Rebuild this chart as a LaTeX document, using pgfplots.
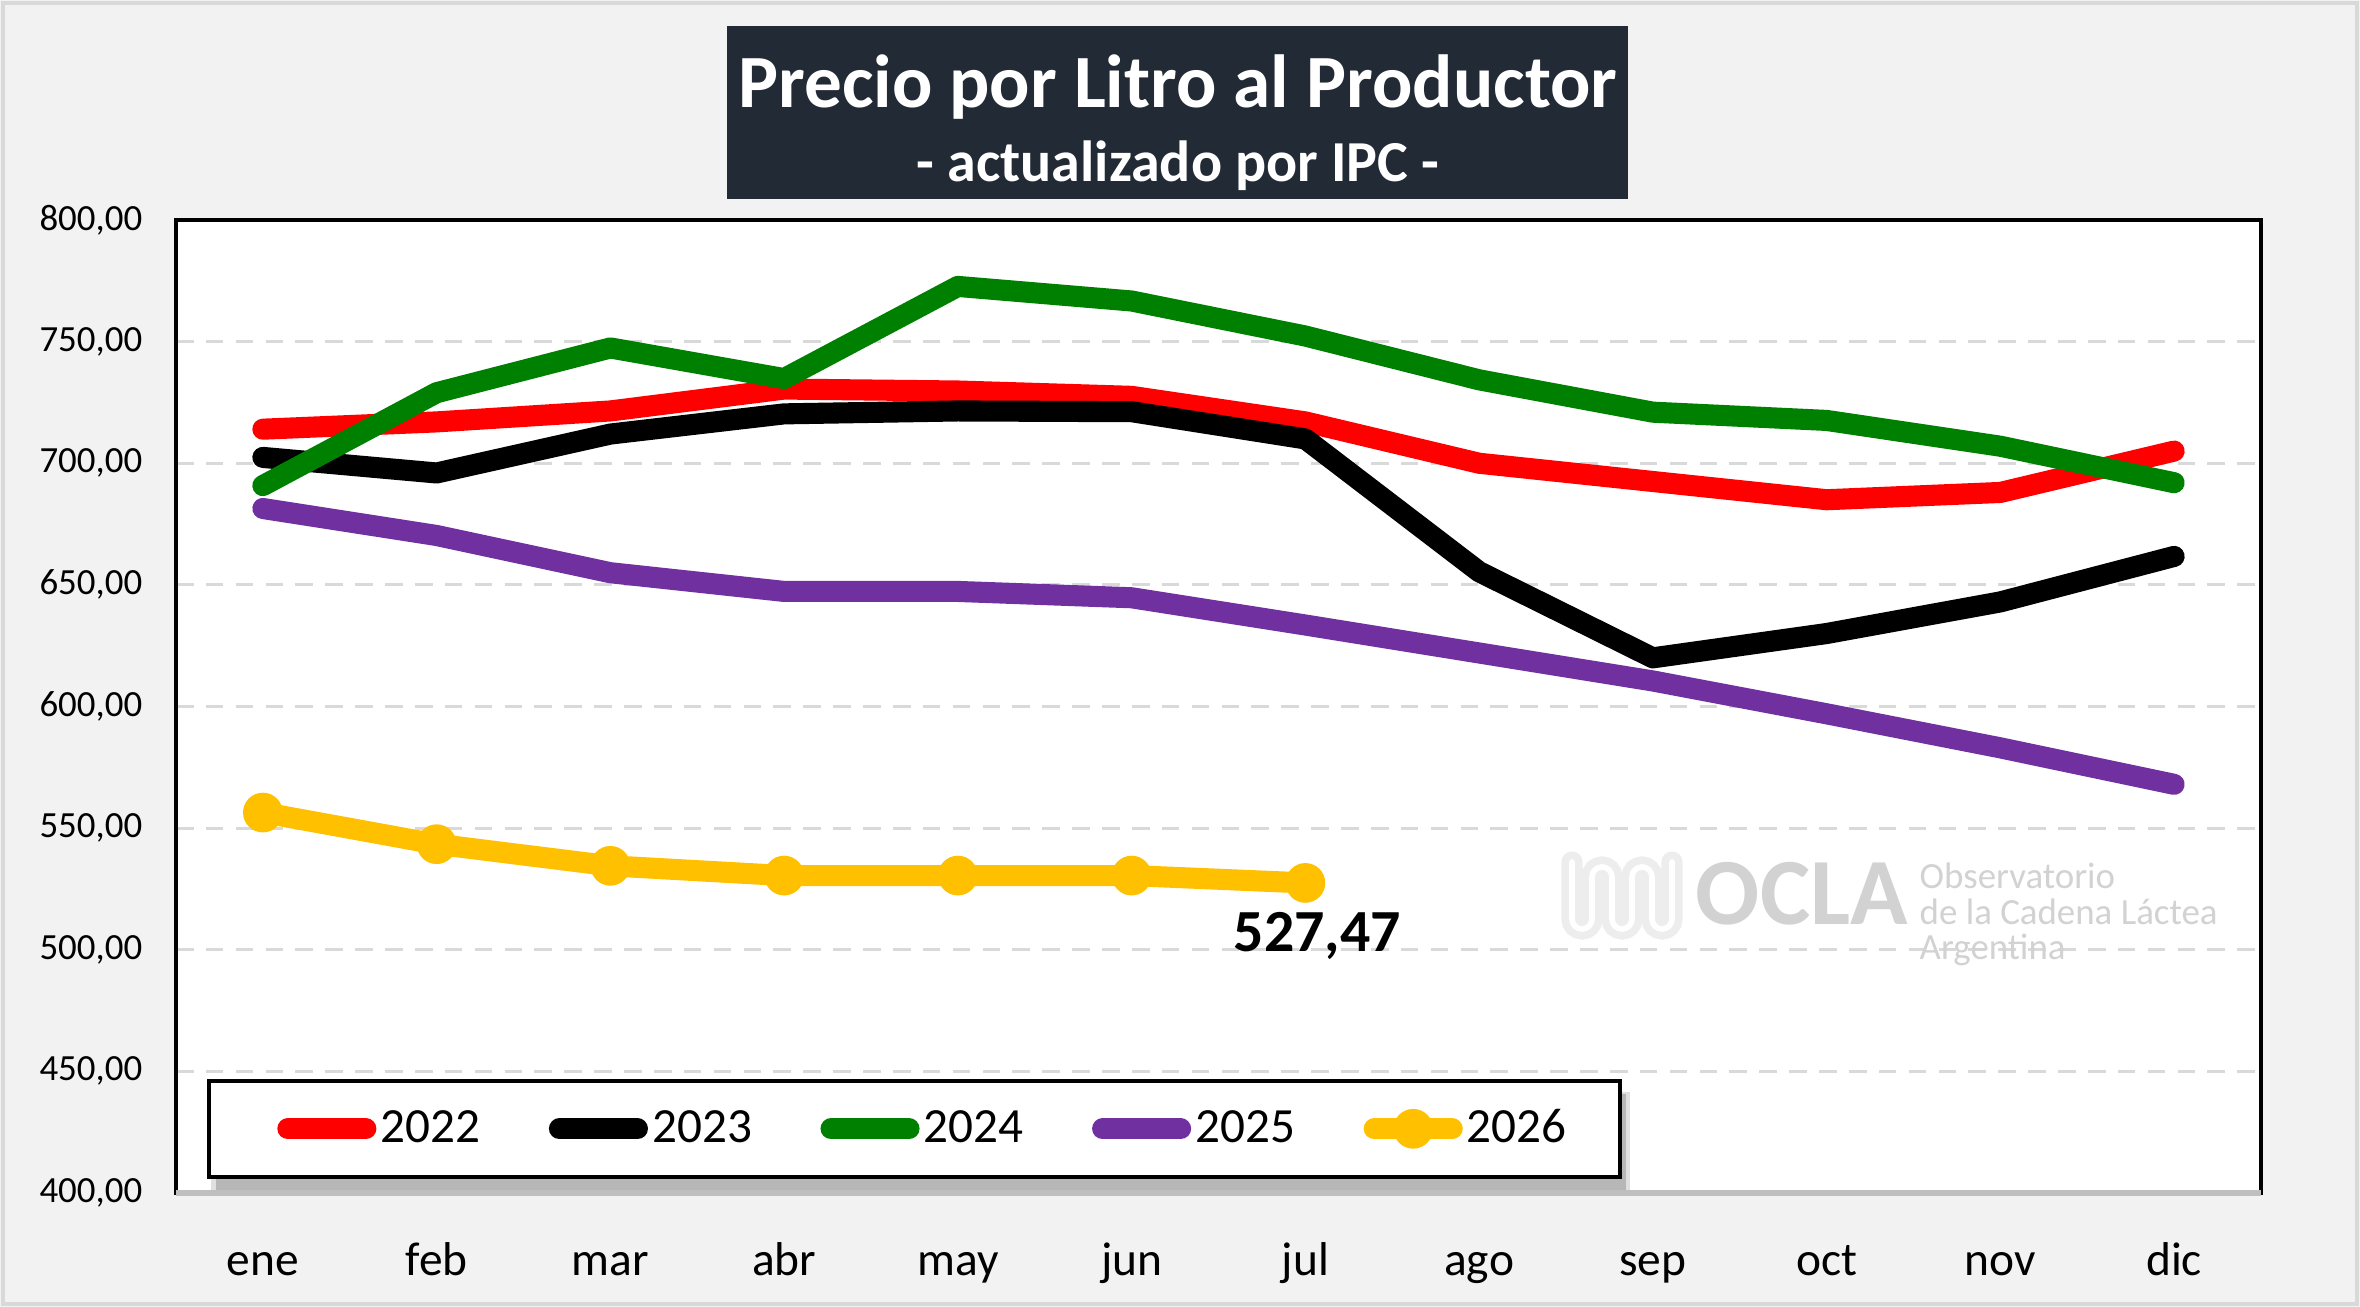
\documentclass[border=0pt]{standalone}
\usepackage{pgfplots}
\pgfplotsset{compat=1.18}
\usepackage{fontspec}
\setmainfont{Carlito}
\definecolor{bgc}{HTML}{F2F2F2}
\definecolor{titlebg}{HTML}{222A35}
\definecolor{c22}{HTML}{FF0000}
\definecolor{c23}{HTML}{000000}
\definecolor{c24}{HTML}{008000}
\definecolor{c25}{HTML}{7030A0}
\definecolor{c26}{HTML}{FFC000}
\definecolor{gridc}{HTML}{D9D9D9}
\definecolor{wm}{HTML}{D2D2D2}
\begin{document}
\begin{tikzpicture}
\useasboundingbox (0,0) rectangle (23.6,13.07);
\fill[bgc] (0,0) rectangle (23.6,13.07);
\draw[gridc, line width=1.2pt] (0.03,0.03) rectangle (23.57,13.04);
\fill[titlebg] (7.27,11.08) rectangle (16.28,12.81);
\node[text=white, font=\bfseries\fontsize{21.4}{25}\selectfont] at (11.78,12.20) {Precio por Litro al Productor};
\node[text=white, font=\bfseries\fontsize{16.5}{19}\selectfont] at (11.78,11.41) {- actualizado por IPC -};
\begin{axis}[
 at={(1.76cm,1.14cm)}, anchor=south west,
 scale only axis, width=20.85cm, height=9.73cm,
 xmin=-0.5, xmax=11.5, ymin=400, ymax=800,
 xtick={0,...,11},
 xticklabels={ene,feb,mar,abr,may,jun,jul,ago,sep,oct,nov,dic},
 ytick={400,450,...,800},
 major tick length=0pt,
 ymajorgrids,
 grid style={gridc, line width=0.8pt, dash pattern=on 5pt off 3.5pt},
 axis line style={black, line width=0.9pt},
 axis background/.style={fill=white},
 /pgf/number format/fixed,
 /pgf/number format/fixed zerofill,
 /pgf/number format/precision=2,
 /pgf/number format/use comma,
 /pgf/number format/1000 sep={},
 /pgf/number format/assume math mode=true,
 yticklabel style={font=\fontsize{10.5}{12}\selectfont, anchor=east, inner sep=0pt, xshift=-9.4pt},
 xticklabel style={font=\fontsize{13.5}{16}\selectfont, anchor=base, inner sep=0pt, yshift=-23.6pt},
 every axis plot/.append style={line join=round, line cap=round, line width=6pt},
 legend columns=5,
 legend image code/.code={\path (-5.4pt,0pt); \draw[mark repeat=2, mark phase=2, #1] plot coordinates {(0cm,0cm) (0.39cm,0cm) (0.78cm,0cm)};},
 legend style={at={(rel axis cs:0.01487,0.0144)}, anchor=south west, draw=black, line width=1.2pt, fill=white,
   font=\fontsize{14}{16}\selectfont, inner xsep=14pt, inner ysep=6.2pt,
   /tikz/every even column/.append style={column sep=12.9pt},
   nodes={inner xsep=1.2pt}},
 after end axis/.code={\draw[black!25, line width=1.5pt] (rel axis cs:0,0) -- (rel axis cs:1,0);},
]
% legend shadow
\fill[black, opacity=0.12] (rel axis cs:0.0170,0.0005) rectangle (rel axis cs:0.6975,0.1040);
\fill[black, opacity=0.18] (rel axis cs:0.0190,0.0025) rectangle (rel axis cs:0.6955,0.1020);
\addplot[c22] coordinates {(0,714) (1,717) (2,721.5) (3,730.5) (4,729.7) (5,727.5) (6,717) (7,700) (8,692.5) (9,685) (10,688) (11,705)};
\addlegendentry{2022}
\addplot[c23] coordinates {(0,702.4) (1,696) (2,712) (3,720.3) (4,721.5) (5,721.2) (6,710) (7,655.4) (8,620) (9,630) (10,643) (11,661.7)};
\addlegendentry{2023}
\addplot[c24] coordinates {(0,690.8) (1,729) (2,747.4) (3,734.8) (4,772.7) (5,766.7) (6,752.3) (7,734.3) (8,721) (9,717.6) (10,707) (11,692)};
\addlegendentry{2024}
\addplot[c25] coordinates {(0,681.4) (1,670.3) (2,655) (3,647.3) (4,647.3) (5,644.7) (6,633.5) (7,622) (8,610.5) (9,597) (10,583) (11,568)};
\addlegendentry{2025}
\addplot[c26, mark=*, mark size=5.4pt, mark options={fill=c26, draw=c26, line width=0.5pt}] coordinates {(0,556.4) (1,543.4) (2,534.5) (3,530.5) (4,530.5) (5,530.5) (6,527.47)};
\addlegendentry{2026}
\node[font=\bfseries\fontsize{17}{20}\selectfont, xshift=0.12cm, yshift=-0.53cm] at (axis cs:6,527.47) {527,47};
\end{axis}
% watermark
\node[text=wm, font=\bfseries\fontsize{27}{30}\selectfont, anchor=center] at (18.02,4.13) {OCLA};
\node[text=wm, font=\fontsize{10.5}{12}\selectfont, anchor=west, inner sep=0pt] at (19.19,4.31) {Observatorio};
\node[text=wm, font=\fontsize{10.5}{12}\selectfont, anchor=west, inner sep=0pt] at (19.19,3.95) {de la Cadena Láctea};
\node[text=wm, font=\fontsize{10.5}{12}\selectfont, anchor=west, inner sep=0pt] at (19.19,3.57) {Argentina};
\draw[black!7, line width=2.2pt, double=white, double distance=1.6pt, line cap=round]
 (15.72,4.45) -- (15.72,3.88) arc[start angle=180, end angle=360, radius=0.1] -- (15.92,4.3) arc[start angle=180, end angle=0, radius=0.1] -- (16.12,3.88) arc[start angle=180, end angle=360, radius=0.1] -- (16.32,4.3) arc[start angle=180, end angle=0, radius=0.1] -- (16.52,3.88) arc[start angle=180, end angle=360, radius=0.1] -- (16.72,4.45);
\end{tikzpicture}
\end{document}
